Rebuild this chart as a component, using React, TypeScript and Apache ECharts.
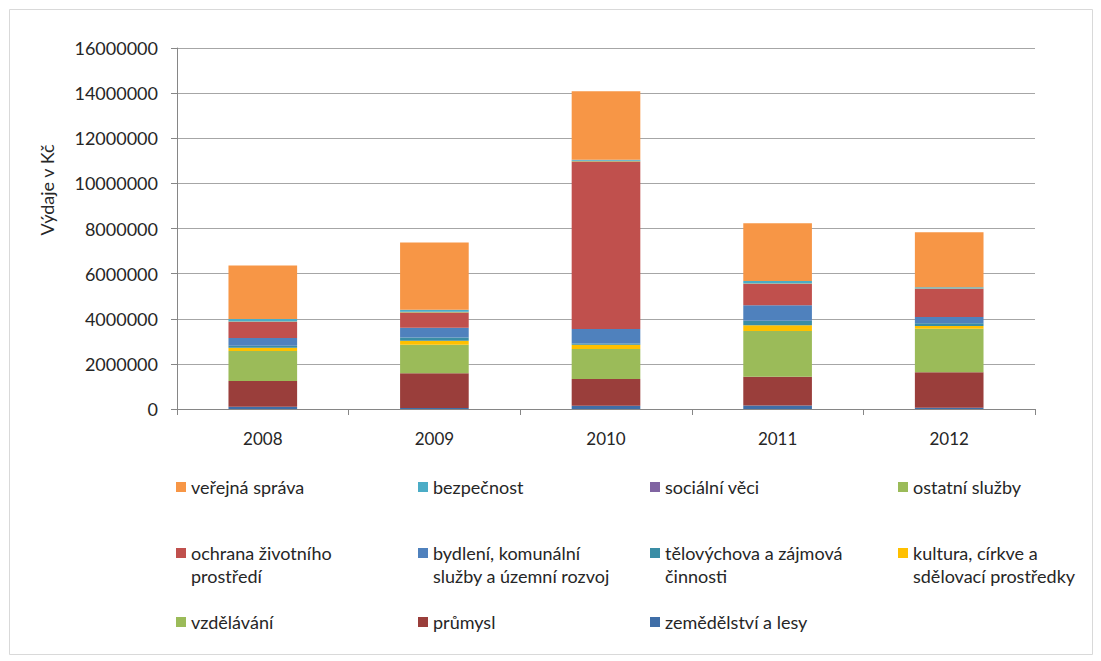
import React, { useEffect, useRef } from "react";
import * as echarts from "echarts";

const years = ["2008", "2009", "2010", "2011", "2012"];
const yTicks = { min: 0, max: 16000000, interval: 2000000 };
const axisTitle = "Výdaje v Kč";

// stacked from bottom to top
const zemedelstvi = [100000, 40000, 140000, 160000, 60000];
const prumysl = [1140000, 1550000, 1190000, 1270000, 1570000];
const vzdelavani = [1330000, 1260000, 1330000, 2030000, 1930000];
const kultura = [150000, 170000, 190000, 250000, 120000];
const telovychova = [80000, 150000, 50000, 200000, 120000];
const bydleni = [350000, 430000, 650000, 690000, 280000];
const ochrana = [710000, 680000, 7420000, 940000, 1240000];
const ostatni = [20000, 20000, 20000, 20000, 20000];
const socialni = [10000, 10000, 10000, 10000, 10000];
const bezpecnost = [100000, 90000, 50000, 100000, 50000];
const verejna = [2370000, 2980000, 3030000, 2560000, 2430000];

const seriesDefs = [
  { name: "zemědělství a lesy", data: zemedelstvi, color: "#3F6EA7" },
  { name: "průmysl", data: prumysl, color: "#9A3E3B" },
  { name: "vzdělávání", data: vzdelavani, color: "#9BBB59" },
  { name: "kultura, církve a sdělovací prostředky", data: kultura, color: "#FFC000" },
  { name: "tělovýchova a zájmová činnosti", data: telovychova, color: "#3A8DA5" },
  { name: "bydlení, komunální služby a územní rozvoj", data: bydleni, color: "#4F81BD" },
  { name: "ochrana životního prostředí", data: ochrana, color: "#C0504D" },
  { name: "ostatní služby", data: ostatni, color: "#9BBB59" },
  { name: "sociální věci", data: socialni, color: "#8064A2" },
  { name: "bezpečnost", data: bezpecnost, color: "#4BACC6" },
  { name: "veřejná správa", data: verejna, color: "#F79646" },
];

// legend layout: rows read left-to-right like the original
const legendOrder = [
  "veřejná správa", "bezpečnost", "sociální věci", "ostatní služby",
  "ochrana životního prostředí", "bydlení, komunální služby a územní rozvoj",
  "tělovýchova a zájmová činnosti", "kultura, církve a sdělovací prostředky",
  "vzdělávání", "průmysl", "zemědělství a lesy",
];
const legendWrapped: Record<string, string> = {
  "ochrana životního prostředí": "ochrana životního\nprostředí",
  "bydlení, komunální služby a územní rozvoj": "bydlení, komunální\nslužby a územní rozvoj",
  "tělovýchova a zájmová činnosti": "tělovýchova a zájmová\nčinnosti",
  "kultura, církve a sdělovací prostředky": "kultura, církve a\nsdělovací prostředky",
};

export default function App() {
  const ref = useRef<HTMLDivElement>(null);
  useEffect(() => {
    if (!ref.current) return;
    const chart = echarts.init(ref.current, undefined, { renderer: "svg" });
    const font = "Lato, 'Noto Sans', sans-serif";
    const colX = [176, 418, 650, 898];
    const rowCenters = [487, 553, 622];
    const legends = legendOrder.map((name, i) => {
      const row = Math.floor(i / 4);
      const col = i % 4;
      const wrapped = legendWrapped[name];
      const top = wrapped ? rowCenters[row] - 34.5 : rowCenters[row] - 11.5;
      return {
        data: [name],
        left: colX[col],
        top,
        padding: 0,
        itemWidth: 10,
        itemHeight: 10,
        itemGap: 0,
        icon: "rect",
        selectedMode: false,
        formatter: (n: string) => (legendWrapped[n] ? "\n" + legendWrapped[n] : n),
        textStyle: {
          fontFamily: font,
          fontSize: 18,
          color: "#262626",
          lineHeight: 23,
          padding: [0, 0, 0, 0],
        },
      };
    });
    chart.setOption({
      animation: false,
      backgroundColor: "#ffffff",
      textStyle: { fontFamily: font },
      grid: { left: 177, right: 66, top: 48, bottom: 252, containLabel: false },
      legend: legends,
      xAxis: {
        type: "category",
        data: years,
        axisLine: { show: true, lineStyle: { color: "#868686", width: 1 } },
        axisTick: { show: true, length: 6, lineStyle: { color: "#868686" }, alignWithLabel: false },
        axisLabel: { fontFamily: font, fontSize: 17, color: "#262626", margin: 21 },
      },
      yAxis: {
        type: "value",
        min: yTicks.min,
        max: yTicks.max,
        interval: yTicks.interval,
        axisLine: { show: true, lineStyle: { color: "#868686", width: 1 } },
        axisTick: { show: true, length: 6, lineStyle: { color: "#868686" } },
        splitLine: { show: true, lineStyle: { color: "#a6a6a6", width: 1 } },
        axisLabel: {
          fontFamily: font,
          fontSize: 18,
          color: "#262626",
          margin: 19,
          formatter: (v: number) => String(v),
        },
      },
      graphic: [
        {
          type: "rect",
          shape: { x: 9.5, y: 9.5, width: 1083, height: 645 },
          style: { fill: "none", stroke: "#d9d9d9", lineWidth: 1 },
          silent: true,
        },
        {
          type: "text",
          x: 47,
          y: 190,
          rotation: Math.PI / 2,
          style: {
            text: axisTitle,
            fontFamily: font,
            fontSize: 18,
            fill: "#262626",
            align: "center",
            verticalAlign: "middle",
          },
        },
      ],
      series: seriesDefs.map((s) => ({
        name: s.name,
        type: "bar",
        stack: "total",
        barWidth: "40%",
        data: s.data,
        itemStyle: { color: s.color },
        emphasis: { disabled: true },
      })),
    });
    return () => chart.dispose();
  }, []);
  return (
    <div
      ref={ref}
      style={{ position: "fixed", left: 0, top: 0, width: 1101, height: 661 }}
    />
  );
}
